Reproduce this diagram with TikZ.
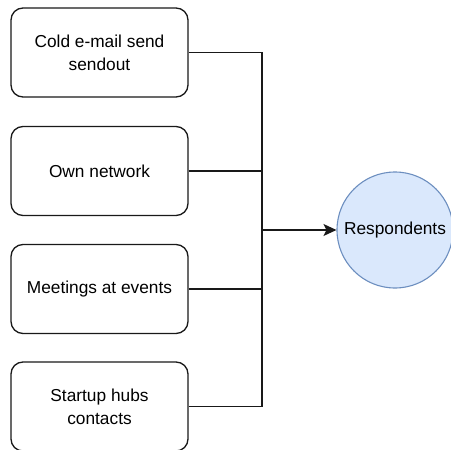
\documentclass[tikz,border=0pt]{standalone}
\usepackage{fontspec}
\setmainfont{Liberation Sans}
\usetikzlibrary{arrows.meta}
\definecolor{cfill}{HTML}{DAE8FC}
\definecolor{cstroke}{HTML}{6C8EBF}
\begin{document}
\begin{tikzpicture}[x=1pt,y=-1pt,
  srcbox/.style={draw=black!90,line width=1.3pt,rounded corners=12pt,minimum width=177pt,minimum height=89pt,align=center,inner sep=0pt,font=\fontsize{17.3}{23}\selectfont},
  target/.style={circle,draw=cstroke,fill=cfill,line width=1.1pt,minimum size=116pt,inner sep=0pt,font=\fontsize{17.3}{23}\selectfont},
  conn/.style={draw=black!90,line width=1.3pt}]
\useasboundingbox (0,0) rectangle (451,450);
\node[srcbox] (b1) at (99.5,52.5) {Cold e-mail send\\sendout};
\node[srcbox] (b2) at (99.5,171) {Own network};
\node[srcbox] (b3) at (99.5,289) {Meetings at events};
\node[srcbox] (b4) at (99.5,406.5) {Startup hubs\\contacts};
\node[target] (r) at (395,230) {Respondents};
\coordinate (j) at (262,230);
\path[conn] (b1.east) -| (j);
\path[conn] (b2.east) -| (j);
\path[conn] (b3.east) -| (j);
\path[conn] (b4.east) -| (j);
\path[conn,-{Stealth[length=13pt,width=12pt,inset=3pt]}] (j) -- (r.west);
\end{tikzpicture}
\end{document}
